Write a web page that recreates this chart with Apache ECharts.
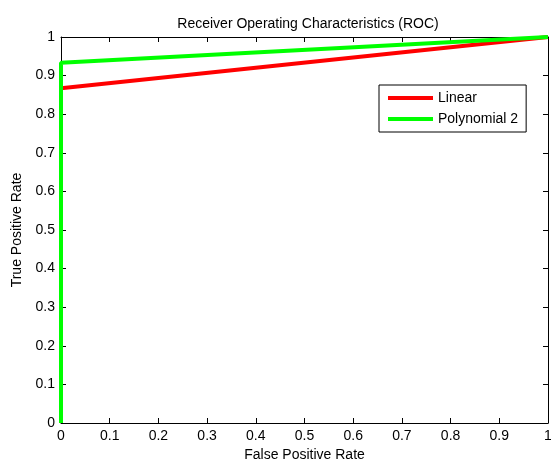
<!DOCTYPE html>
<html>
<head>
<meta charset="utf-8">
<script src="https://cdn.jsdelivr.net/npm/echarts@6/dist/echarts.min.js"></script>
<style>
  html, body { margin: 0; padding: 0; background: #fff; }
  #roc { width: 551px; height: 462px; }
</style>
</head>
<body>
<div id="roc"></div>
<script>
!function () {
    // ROC points
    const seriesNames = ['Linear', 'Polynomial 2'];
    const linearFpr = [0, 0, 1];
    const linearTpr = [0, 0.867, 1];
    const polyFpr = [0, 0, 1];
    const polyTpr = [0, 0.933, 1];
    const colors = ['#ff0000', '#00ff00'];

    const font = 'Liberation Sans, Arial, sans-serif';
    const fmt = function (v) { return String(+v.toFixed(1)); };

    const mkAxis = function (extra) {
        return Object.assign({
            type: 'value',
            min: 0,
            max: 1,
            interval: 0.1,
            axisLine: { show: true, onZero: false, lineStyle: { color: '#000', width: 1 } },
            axisTick: { show: true, inside: true, length: 5, lineStyle: { color: '#000' } },
            splitLine: { show: false },
            axisLabel: { show: false }
        }, extra);
    };

    const option = {
        animation: false,
        backgroundColor: '#fff',
        title: {
            text: 'Receiver Operating Characteristics (ROC)',
            left: 303, top: 12, textAlign: 'center',
            textStyle: { color: '#000', fontFamily: font, fontSize: 14, fontWeight: 'normal' }
        },
        legend: {
            data: seriesNames,
            orient: 'vertical',
            left: 379, top: 85,
            padding: [6, 8, 6, 9],
            itemGap: 7,
            itemWidth: 45,
            itemHeight: 4,
            icon: 'rect',
            borderColor: '#000',
            borderWidth: 1,
            backgroundColor: '#fff',
            textStyle: { color: '#000', fontFamily: font, fontSize: 14 }
        },
        grid: { left: 61, right: 3, top: 37, bottom: 39, outerBoundsMode: 'none' },
        xAxis: [
            mkAxis({
                position: 'bottom',
                name: 'False Positive Rate', nameLocation: 'middle', nameGap: 25,
                nameTextStyle: { color: '#000', fontFamily: font, fontSize: 14 },
                axisLabel: { color: '#000', fontFamily: font, fontSize: 14, margin: 6, formatter: fmt }
            }),
            mkAxis({ position: 'top' })
        ],
        yAxis: [
            mkAxis({
                position: 'left',
                name: 'True Positive Rate', nameLocation: 'middle', nameGap: 36,
                nameTextStyle: { color: '#000', fontFamily: font, fontSize: 14 },
                axisLabel: { color: '#000', fontFamily: font, fontSize: 14, margin: 6, formatter: fmt }
            }),
            mkAxis({ position: 'right' })
        ],
        series: [
            {
                name: seriesNames[0], type: 'line', showSymbol: false,
                data: linearFpr.map(function (x, i) { return [x, linearTpr[i]]; }),
                lineStyle: { color: colors[0], width: 4 },
                itemStyle: { color: colors[0] },
                z: 2
            },
            {
                name: seriesNames[1], type: 'line', showSymbol: false,
                data: polyFpr.map(function (x, i) { return [x, polyTpr[i]]; }),
                lineStyle: { color: colors[1], width: 4 },
                itemStyle: { color: colors[1] },
                z: 3
            }
        ]
    };

    const myChart = echarts.init(document.getElementById('roc'));
    myChart && myChart.setOption(option);
}();
</script>
</body>
</html>
